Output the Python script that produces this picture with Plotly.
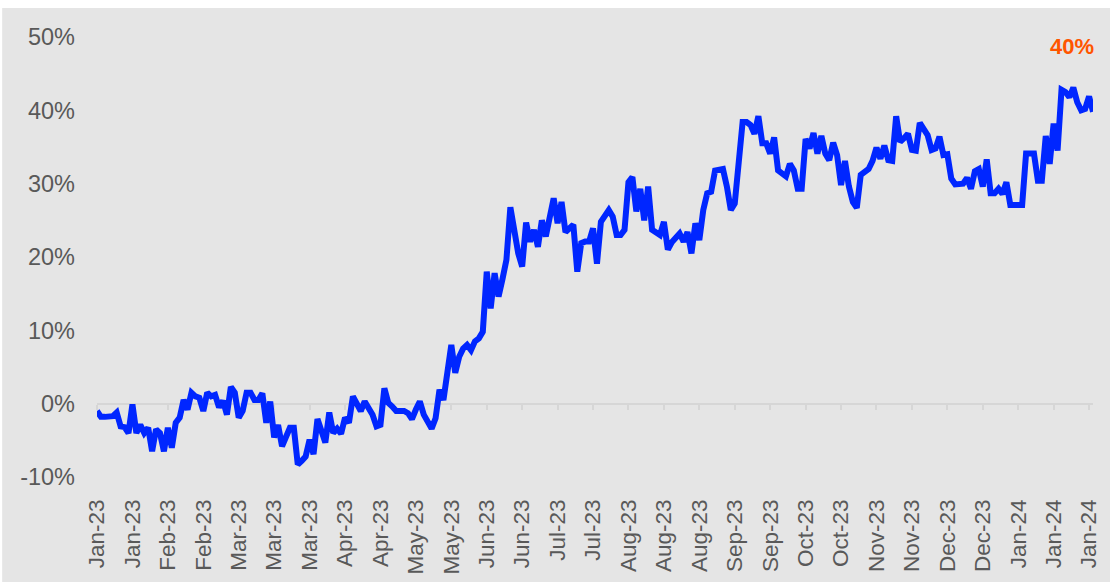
import plotly.graph_objects as go

# Cumulative return (%) per trading day, Jan-23 .. Jan-24
values = [
    -1.0, -1.8, -1.8, -1.7, -1.7, -1.2, -3.1, -3.2, -4.0, -0.1,
    -4.0, -2.9, -4.0, -3.3, -6.5, -3.5, -4.0, -6.5, -3.3, -6.0,
    -2.6, -1.9, 0.5, -0.8, 1.5, 1.0, 0.8, -1.0, 1.5, 1.0,
    1.2, -0.5, 0.4, -1.5, 2.3, 1.5, -1.9, -1.0, 1.5, 1.5,
    0.5, 0.5, 1.4, -2.6, 0.3, -4.6, -2.9, -5.8, -4.4, -3.3,
    -3.3, -8.3, -7.8, -7.2, -4.9, -6.9, -2.1, -3.5, -5.3, -1.2,
    -4.0, -3.4, -4.1, -1.9, -2.6, 1.0, -0.1, -1.0, 0.3, -0.5,
    -1.5, -3.1, -2.9, 2.1, 0.1, -0.4, -1.0, -1.0, -1.0, -1.3,
    -2.1, -0.8, 0.3, -1.5, -2.5, -3.4, -2.0, 1.9, 0.5, 5.0,
    8.0, 4.2, 6.4, 7.5, 8.0, 7.3, 8.5, 8.9, 9.8, 18.0,
    13.0, 17.8, 14.6, 17.0, 19.6, 26.8, 23.5, 20.5, 18.7, 24.7,
    22.1, 23.7, 21.4, 25.0, 22.8, 25.5, 28.0, 24.6, 27.5, 23.4,
    24.0, 24.4, 18.0, 21.9, 22.1, 22.1, 23.9, 19.1, 24.8, 25.5,
    26.4, 25.5, 23.0, 23.0, 23.7, 30.2, 30.9, 26.2, 29.3, 25.0,
    29.6, 23.7, 23.4, 23.0, 24.8, 21.0, 22.0, 22.5, 23.2, 22.1,
    23.4, 20.5, 24.6, 22.3, 26.4, 28.7, 28.9, 31.8, 31.9, 32.0,
    29.6, 26.4, 27.3, 33.9, 38.4, 38.4, 38.0, 36.8, 39.2, 35.5,
    35.5, 34.1, 36.3, 31.8, 31.4, 31.0, 32.7, 31.8, 29.3, 29.3,
    36.1, 34.8, 36.9, 34.1, 36.5, 34.1, 33.2, 35.6, 33.9, 29.8,
    33.1, 29.6, 27.5, 26.7, 31.2, 31.6, 32.0, 33.1, 34.9, 33.4,
    35.2, 33.2, 33.1, 39.2, 35.7, 36.2, 36.8, 34.6, 34.5, 38.3,
    37.4, 36.6, 34.6, 34.8, 36.4, 33.9, 34.0, 30.7, 29.9, 30.0,
    30.0, 30.8, 29.3, 31.7, 32.0, 29.6, 33.3, 28.7, 28.7, 29.3,
    28.6, 30.2, 27.1, 27.1, 27.1, 27.1, 34.1, 34.1, 34.1, 30.4,
    30.4, 36.5, 32.7, 38.2, 34.5, 42.8, 42.5, 41.8, 43.1, 41.1,
    40.0, 40.2, 41.9, 39.8,
]

x_labels = [
    "Jan-23", "Jan-23", "Feb-23", "Feb-23", "Mar-23", "Mar-23", "Mar-23",
    "Apr-23", "Apr-23", "May-23", "May-23", "Jun-23", "Jun-23", "Jul-23",
    "Jul-23", "Aug-23", "Aug-23", "Aug-23", "Sep-23", "Sep-23", "Oct-23",
    "Oct-23", "Nov-23", "Nov-23", "Dec-23", "Dec-23", "Jan-24", "Jan-24",
    "Jan-24",
]
label_step = 9  # one label every 9 trading days

y_ticks = [-10, 0, 10, 20, 30, 40, 50]
y_labels = ["-10%", "0%", "10%", "20%", "30%", "40%", "50%"]

idx = list(range(len(values)))
x_tickvals = [i * label_step for i in range(len(x_labels))]
x_range = [0, len(values) - 1]
y_range = [y_ticks[0], y_ticks[-1]]

BG = "#e5e5e5"
TXT = "#595959"
FONT = "Liberation Sans, Arial, sans-serif"

fig = go.Figure()
fig.add_trace(go.Scatter(
    x=idx, y=values, mode="lines",
    line=dict(color="#0026ff", width=6),
    hoverinfo="skip", showlegend=False,
))
# carrier trace for the zero-level axis
fig.add_trace(go.Scatter(
    x=x_range, y=[None, None], xaxis="x2", mode="lines",
    showlegend=False, hoverinfo="skip",
))

zero_pos = (0 - y_range[0]) / (y_range[1] - y_range[0])

fig.update_layout(
    width=1110, height=582,
    margin=dict(l=97, r=17, t=37, b=105),
    paper_bgcolor="white",
    plot_bgcolor=BG,
    font=dict(family=FONT, size=23, color=TXT),
    xaxis=dict(
        range=x_range, tickmode="array", tickvals=x_tickvals, ticktext=x_labels,
        tickangle=-90, showgrid=False, zeroline=False, showline=False,
        ticks="", ticklabelstandoff=17, automargin=False,
        tickfont=dict(family=FONT, size=22.5, color=TXT),
    ),
    xaxis2=dict(
        overlaying="x", anchor="free", position=zero_pos, side="bottom",
        range=x_range, tickmode="array", tickvals=x_tickvals,
        showticklabels=False, showgrid=False, zeroline=False,
        showline=True, linecolor="#d6d6d6", linewidth=2,
        ticks="outside", ticklen=5, tickwidth=2, tickcolor="#d6d6d6",
        layer="below traces", automargin=False,
    ),
    yaxis=dict(
        range=y_range, tickmode="array", tickvals=y_ticks, ticktext=y_labels,
        showgrid=False, zeroline=False, showline=False, ticks="",
        ticklabelstandoff=21, automargin=False,
        tickfont=dict(family=FONT, size=23.5, color=TXT),
    ),
    shapes=[dict(
        type="rect", xref="paper", yref="paper",
        x0=-0.0952, x1=1.05, y0=-0.4, y1=1.066,
        fillcolor=BG, line=dict(width=0), layer="below",
    )],
    annotations=[dict(
        xref="paper", yref="paper", x=0.979, y=0.978,
        text=f"<b>{values[-1]:.0f}%</b>", showarrow=False,
        font=dict(family=FONT, size=22, color="#ff5500"),
        xanchor="center", yanchor="middle",
    )],
)

fig.write_html("out.html")
